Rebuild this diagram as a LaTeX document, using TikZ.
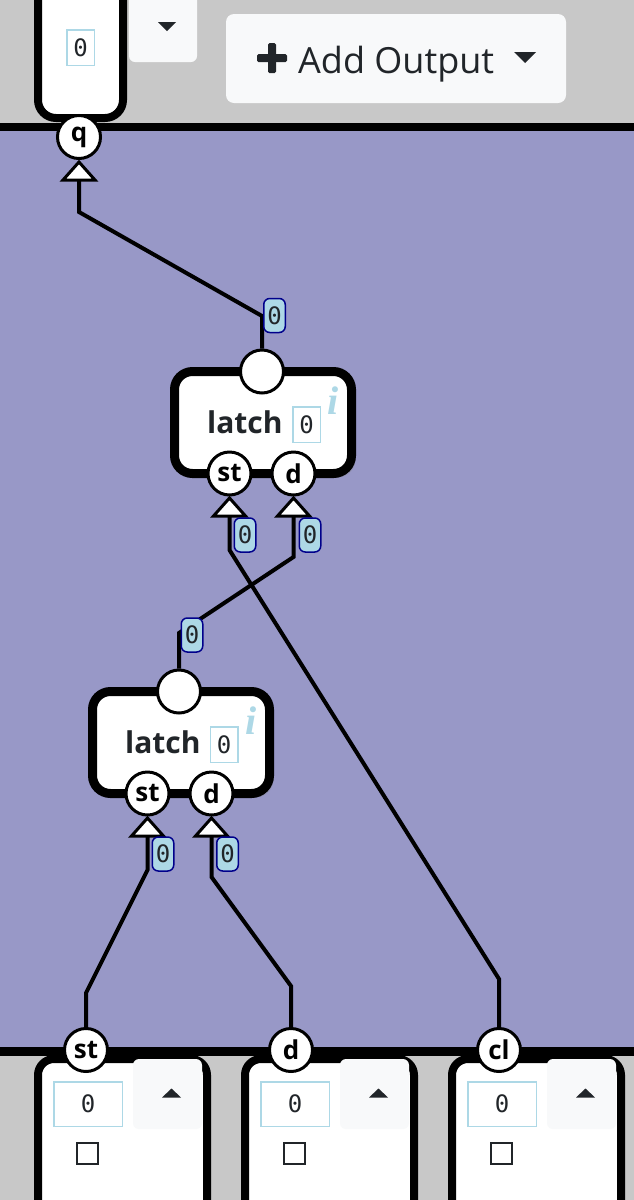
\documentclass[tikz,border=0pt]{standalone}
\usepackage{fontspec}
\setmainfont{Open Sans}
\newfontfamily\monof{DejaVu Sans Mono}
\newfontfamily\seriff{Liberation Serif}
\usetikzlibrary{shadows,calc}
\pgfdeclarelayer{back}
\pgfdeclarelayer{wires}
\pgfsetlayers{back,wires,main}
\definecolor{bgpurple}{RGB}{152,152,199}
\definecolor{bggray}{RGB}{200,200,200}
\definecolor{btn}{HTML}{F8F9FA}
\definecolor{ink}{HTML}{212529}
\definecolor{lblue}{HTML}{ADD8E6}
\definecolor{navyb}{HTML}{00008B}
\newcommand\fs[1]{\fontsize{#1}{#1}\selectfont}
\tikzset{
  port/.style={circle, draw=black, fill=white, line width=3pt, minimum size=43pt, inner sep=0pt, font=\fs{26}\bfseries, text=black},
  wire/.style={line width=4pt, draw=black, line join=miter},
  latchbox/.style={draw=black, fill=white, line width=9pt, rounded corners=18pt, minimum width=177pt, minimum height=102pt, inner sep=0pt, drop shadow={opacity=0.3, shadow xshift=4pt, shadow yshift=-4pt}},
  sig/.style={draw=navyb, fill=lblue, line width=1.5pt, rounded corners=6pt, minimum width=21.5pt, minimum height=34pt, inner sep=0pt, font=\monof\fs{24}, text=ink},
  valbox/.style={draw=lblue, fill=white, line width=1.5pt, minimum width=27.5pt, minimum height=35.5pt, inner sep=0pt, font=\monof\fs{24}, text=ink},
  invalbox/.style={draw=lblue, fill=white, line width=1.5pt, minimum width=68.5pt, minimum height=44.5pt, inner sep=0pt, font=\monof\fs{24}, text=ink},
  frame/.style={draw=black, fill=white, line width=8pt, rounded corners=16pt, inner sep=0pt},
  btnbox/.style={fill=btn, rounded corners=6pt, inner sep=0pt},
  chk/.style={draw=ink, line width=1.8pt, fill=white, minimum size=21pt, inner sep=0pt},
  latchtxt/.style={anchor=base west, font=\fs{30}\bfseries, text=ink, inner sep=0pt},
  infoi/.style={anchor=base, font=\seriff\fs{40}\bfseries\itshape, text=lblue, inner sep=0pt},
  tri/.pic={\draw[line width=3pt, fill=white, line join=miter] (-16,0) -- (0,-18) -- (16,0) -- cycle;}
}
\newcommand\inbox[2]{%
  \node[frame, minimum width=169pt, minimum height=191pt] (#1box) at (#2+122.5,1154.5) {};
  \node[btnbox, minimum width=69pt, minimum height=70pt] (#1up) at (#2+167.5,1094) {};
  \fill[ink] (#2+162,1097.5) -- (#2+181,1097.5) -- (#2+171.5,1088.5) -- cycle;
  \node[invalbox] (#1val) at (#2+88,1104) {0};
  \node[chk] (#1chk) at (#2+87.5,1153.5) {};
}
\begin{document}
\begin{tikzpicture}[x=1pt,y=-1pt]
\useasboundingbox (0,0) rectangle (634,1200);
% backgrounds
\begin{pgfonlayer}{back}
\fill[bggray] (0,0) rectangle (634,1200);
\fill[bgpurple] (0,131) rectangle (634,1047);
\end{pgfonlayer}
% top area
\node[frame, rounded corners=18pt, minimum width=85pt, minimum height=170pt] (outbox) at (80.5,33) {};
\node[valbox] (outval) at (80.5,47.5) {0};
\node[btnbox, minimum width=68pt, minimum height=80pt] (dropbtn) at (163,22) {};
\fill[ink] (158,22) -- (176,22) -- (167,31) -- cycle;
\node[btnbox, rounded corners=8pt, minimum width=340pt, minimum height=89pt] (addbtn) at (396,58.5) {};
\fill[ink, rounded corners=1.5pt] (257,54) rectangle (287,62);
\fill[ink, rounded corners=1.5pt] (268,43) rectangle (276,73);
\node[anchor=base west, font=\fs{36}, text=ink, inner sep=0pt] (addtxt) at (298,73) {Add Output};
\fill[ink] (514,52) -- (536,52) -- (525,63) -- cycle;
% separator lines
\fill[black] (0,123) rectangle (634,131);
\fill[black] (0,1047) rectangle (634,1056);
% bottom input boxes
\inbox{st}{0}
\inbox{d}{207}
\inbox{cl}{414}
% latch 1
\node[latchbox] (L1) at (263,422.5) {};
\node[latchtxt] (L1t) at (207,433) {latch};
\node[valbox] (L1v) at (306.5,424.5) {0};
\node[infoi] (L1i) at (333,414) {i};
% latch 2
\node[latchbox] (L2) at (181,742.5) {};
\node[latchtxt] (L2t) at (125,753) {latch};
\node[valbox] (L2v) at (224,744.5) {0};
\node[infoi] (L2i) at (251,734) {i};
% triangle coordinates
\coordinate (qT) at (79,180);
\coordinate (s1T) at (229.5,516);
\coordinate (d1T) at (293.5,516);
\coordinate (s2T) at (147.5,836);
\coordinate (d2T) at (211.5,836);
\pic at (qT) {tri};
\pic at (s1T) {tri};
\pic at (d1T) {tri};
\pic at (s2T) {tri};
\pic at (d2T) {tri};
% ports
\node[port] (q) at (79,137) {q};
\node[port] (L1o) at (262,371.5) {};
\node[port] (L1s) at (229.5,473.5) {st};
\node[port] (L1d) at (293.5,473.5) {d};
\node[port] (L2o) at (179,691.5) {};
\node[port] (L2s) at (147.5,793.5) {st};
\node[port] (L2d) at (211.5,793.5) {d};
\node[port] (stin) at (86,1050) {st};
\node[port] (din) at (291,1050) {d};
\node[port] (clin) at (499,1050) {cl};
% bend coordinates
\coordinate (qB1) at (79,212);
\coordinate (qB2) at (262,316);
\coordinate (s1B1) at (229.5,550);
\coordinate (s1B2) at (499,979);
\coordinate (d1B1) at (293.5,557);
\coordinate (d1B2) at (179,633);
\coordinate (s2B1) at (147.5,870);
\coordinate (s2B2) at (86,993);
\coordinate (d2B1) at (211.5,877);
\coordinate (d2B2) at (291,986);
\begin{pgfonlayer}{wires}
\draw[wire] (qT) -- (qB1) -- (qB2) -- (L1o.north);
\draw[wire] (s1T) -- (s1B1) -- (s1B2) -- (clin.north);
\draw[wire] (d1T) -- (d1B1) -- (d1B2) -- (L2o.north);
\draw[wire] (s2T) -- (s2B1) -- (s2B2) -- (stin.north);
\draw[wire] (d2T) -- (d2B1) -- (d2B2) -- (din.north);
\end{pgfonlayer}
% signal labels
\node[sig] (sq) at (274.5,315.5) {0};
\node[sig] (ss1) at (245,535) {0};
\node[sig] (sd1) at (310,535) {0};
\node[sig] (so2) at (192,635) {0};
\node[sig] (ss2) at (163,854) {0};
\node[sig] (sd2) at (227.5,854) {0};
\end{tikzpicture}
\end{document}
